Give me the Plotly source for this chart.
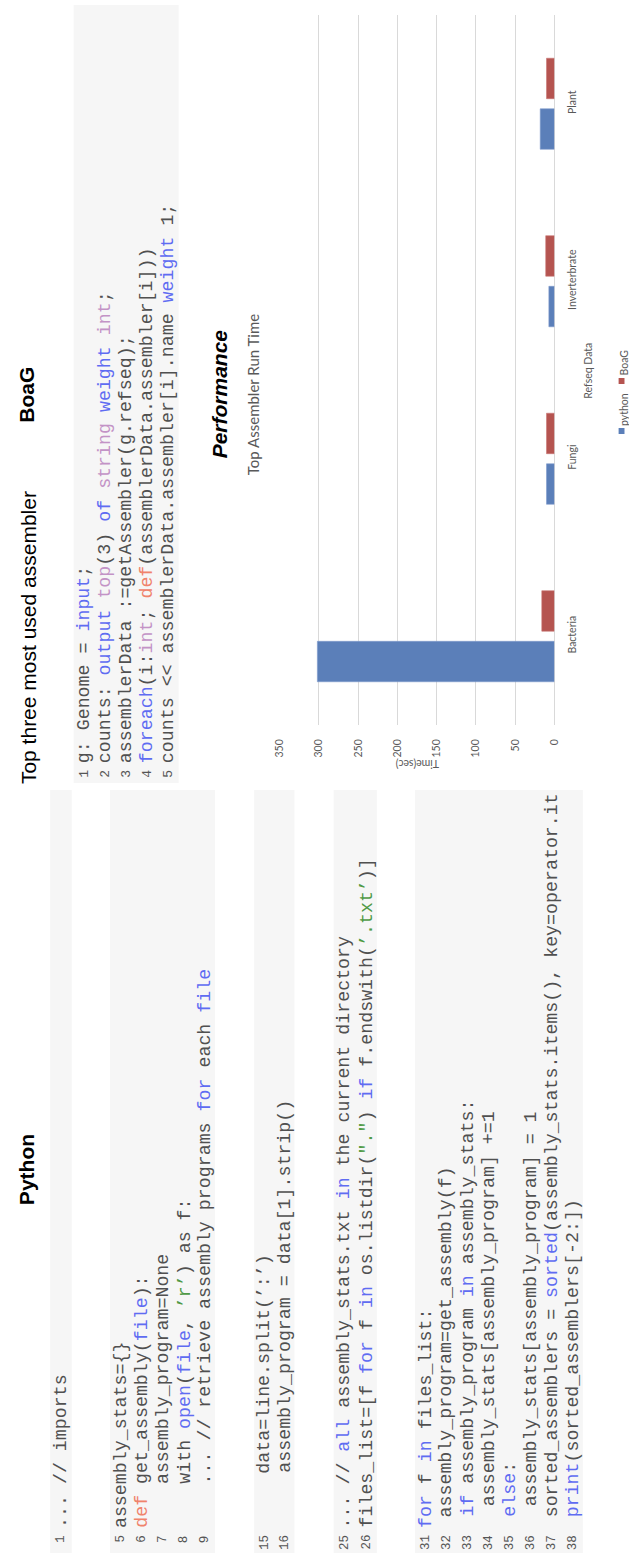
import plotly.graph_objects as go

W, H = 629, 1554

# ---------------- data ----------------
categories = ["Bacteria", "Fungi", "Inverterbrate", "Plant"]
python_times = [302, 10, 7, 18]
boag_times = [16, 10, 11, 10]
x_ticks = [0, 50, 100, 150, 200, 250, 300, 350]

C = "#505050"
BLUE = "#5f6cf2"
SALMON = "#f0836c"
GREEN = "#4f9a45"
PURPLE = "#c393c6"

python_nums = ["1", "5", "6", "7", "8", "9", "15", "16", "25", "26",
               "31", "32", "33", "34", "35", "36", "37", "38"]
python_code = [
    [("... // imports", C)],
    [("assembly_stats={}", C)],
    [("def", SALMON), (" get_assembly(", C), ("file", BLUE), ("):", C)],
    [("    assembly_program=None", C)],
    [("    with ", C), ("open", BLUE), ("(", C), ("file", BLUE), (", ", C), ("’r’", GREEN), (") as f:", C)],
    [("    ... // retrieve assembly programs ", C), ("for", BLUE), (" each ", C), ("file", BLUE)],
    [("     data=line.split(’:’)", C)],
    [("     assembly_program = data[1].strip()", C)],
    [("... // ", C), ("all", BLUE), (" assembly_stats.txt ", C), ("in", BLUE), (" the current directory", C)],
    [("files_list=[f ", C), ("for", BLUE), (" f ", C), ("in", BLUE), (" os.listdir(", C), ("\".\"", GREEN),
     (") ", C), ("if", BLUE), (" f.endswith(", C), ("’.txt’", GREEN), (")]", C)],
    [("for", BLUE), (" f ", C), ("in", BLUE), (" files_list:", C)],
    [(" assembly_program=get_assembly(f)", C)],
    [(" ", C), ("if", BLUE), (" assembly_program ", C), ("in", BLUE), (" assembly_stats:", C)],
    [("  assembly_stats[assembly_program] +=1", C)],
    [(" ", C), ("else", BLUE), (":", C)],
    [("  assembly_stats[assembly_program] = 1", C)],
    [(" sorted_assemblers = ", C), ("sorted", BLUE), ("(assembly_stats.items(), key=operator.it", C)],
    [(" ", C), ("print", BLUE), ("(sorted_assemblers[-2:])", C)],
]
# pixel centre (across the line) of each python line
python_line_x = [55, 115.8, 137.4, 159, 180.6, 202.2, 262.5, 283, 344, 366,
                 426.7, 448, 469.5, 491, 512.5, 534, 555.4, 576.8]

boag_nums = ["1", "2", "3", "4", "5"]
boag_code = [
    [("g: Genome = ", C), ("input", BLUE), (";", C)],
    [("counts: ", C), ("output", BLUE), (" ", C), ("top", PURPLE), ("(3) ", C), ("of", BLUE), (" ", C),
     ("string", PURPLE), (" ", C), ("weight", BLUE), (" ", C), ("int", PURPLE), (";", C)],
    [("assemblerData :=getAssembler(g.refseq);", C)],
    [("foreach", BLUE), ("(i:", C), ("int", PURPLE), ("; ", C), ("def", SALMON),
     ("(assemblerData.assembler[i]))", C)],
    [("counts << assemblerData.assembler[i].name ", C), ("weight", BLUE), (" 1;", C)],
]
boag_line_x = [78.7, 100.1, 121.5, 142.9, 164.3]


def px(x):
    return x / W


def py(y):
    return 1 - y / H


def seg_html(segs):
    out = []
    for t, col in segs:
        t = t.replace(" ", "\u00a0")
        out.append(f"<span style='color:{col}'>{t}</span>")
    return "".join(out)


fig = go.Figure()
fig.add_trace(go.Bar(name="python", y=categories, x=python_times, orientation="h",
                     marker=dict(color="#5b7fb9", line=dict(color="#7d9bcc", width=0.6))))
fig.add_trace(go.Bar(name="BoaG", y=categories, x=boag_times, orientation="h",
                     marker=dict(color="#b55450", line=dict(color="#c97572", width=0.6))))

shapes = []
# code backgrounds
BG = "#f6f6f6"
for x0, x1 in [(44, 66), (105, 212), (252, 293), (333, 377), (416, 587)]:
    shapes.append(dict(type="rect", xref="paper", yref="paper", x0=px(x0), x1=px(x1),
                       y0=py(1553), y1=py(790), fillcolor=BG, line=dict(width=0), layer="below"))
shapes.append(dict(type="rect", xref="paper", yref="paper", x0=px(68), x1=px(175),
                   y0=py(783), y1=py(5), fillcolor=BG, line=dict(width=0), layer="below"))
# legend swatches
shapes.append(dict(type="rect", xref="paper", yref="paper", x0=px(623.5), x1=px(629.5),
                   y0=py(434), y1=py(428), fillcolor="#5b7fb9", line=dict(width=0)))
shapes.append(dict(type="rect", xref="paper", yref="paper", x0=px(623.5), x1=px(629.5),
                   y0=py(384), y1=py(378), fillcolor="#b55450", line=dict(width=0)))

ann = []


def add_text(text, xc, ypos, size, color="#000", family="Liberation Sans", yanchor="bottom",
             angle=-90, xanchor="center"):
    ann.append(dict(text=text, x=px(xc), y=py(ypos), xref="paper", yref="paper",
                    xanchor=xanchor, yanchor=yanchor, textangle=angle, showarrow=False,
                    borderpad=0, borderwidth=0,
                    font=dict(family=family, size=size, color=color)))


MONO = "Liberation Mono"
CODE_SIZE = 18.3
# python code
for num, segs, xc in zip(python_nums, python_code, python_line_x):
    add_text(num, xc, 1535, 12.5, color="#555", family=MONO, yanchor="top")
    add_text(seg_html(segs), xc, 1528, CODE_SIZE, color=C, family=MONO, yanchor="bottom")
# boag code
for num, segs, xc in zip(boag_nums, boag_code, boag_line_x):
    add_text(num, xc, 769.5, 13, color="#555", family=MONO, yanchor="top")
    add_text(seg_html(segs), xc, 763, CODE_SIZE, color=C, family=MONO, yanchor="bottom")

# headers
add_text("<b>Python</b>", 19.5, 1170, 21, yanchor="middle")
add_text("<b>BoaG</b>", 19.5, 394.5, 21, yanchor="middle")
add_text("Top three most used assembler", 22, 784, 21, yanchor="bottom")
add_text("<b><i>Performance</i></b>", 216.5, 394, 21, yanchor="middle")

# chart texts
GRAY = "#595959"
add_text("Top Assembler Run Time", 251, 395, 15, color=GRAY, family="Lato", yanchor="middle")
add_text("Time(sec)", 419, 764, 10.5, color=GRAY, family="Lato", yanchor="middle", angle=180)
add_text("Refseq Data", 592, 371, 10.5, color=GRAY, family="Lato", yanchor="middle")
add_text("python", 628.5, 426, 10.5, color=GRAY, family="Lato", yanchor="bottom")
add_text("BoaG", 628.5, 376, 10.5, color=GRAY, family="Lato", yanchor="bottom")

fig.update_layout(
    width=W, height=H, autosize=False,
    margin=dict(l=0, r=0, t=0, b=0),
    paper_bgcolor="white", plot_bgcolor="white",
    barmode="group", bargap=0.43, bargroupgap=0.2,
    showlegend=False,
    shapes=shapes, annotations=ann,
    xaxis=dict(domain=[px(278), px(558)], range=[350, 0], tickvals=x_ticks,
               showgrid=True, gridcolor="#d9d9d9", gridwidth=1,
               zeroline=True, zerolinecolor="#d9d9d9", zerolinewidth=1,
               showline=False, ticks="outside", ticklen=9, tickcolor="rgba(0,0,0,0)",
               tickangle=-90, tickfont=dict(family="Lato", size=10.5, color=GRAY)),
    yaxis=dict(domain=[py(725), py(15)], side="right", type="category",
               categoryorder="array", categoryarray=categories,
               showgrid=False, zeroline=False, showline=False,
               ticks="outside", ticklen=8, tickcolor="rgba(0,0,0,0)",
               tickangle=-90, tickfont=dict(family="Lato", size=10.5, color=GRAY)),
)

fig.write_html("out.html")
